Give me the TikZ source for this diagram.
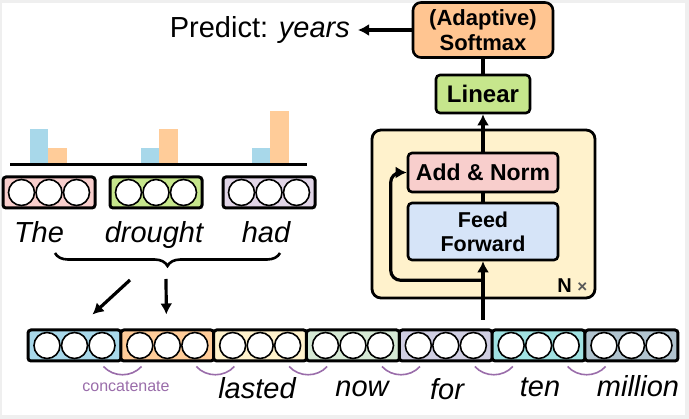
\documentclass[tikz,border=0pt]{standalone}
\usepackage{fontspec}
\setmainfont{Liberation Sans}
\usepackage{xcolor}
\usepackage{tikz}
\usetikzlibrary{arrows.meta,positioning,calc,decorations.pathreplacing}
\definecolor{FrameGray}{RGB}{239,239,239}
\definecolor{EmbBlue}{RGB}{168,216,234}
\definecolor{EmbOrange}{RGB}{255,204,153}
\definecolor{EmbYellow}{RGB}{255,242,204}
\definecolor{EmbGreen}{RGB}{213,232,212}
\definecolor{EmbPurple}{RGB}{208,206,226}
\definecolor{EmbCyan}{RGB}{160,226,226}
\definecolor{EmbSlate}{RGB}{176,195,206}
\definecolor{TopPink}{RGB}{248,206,204}
\definecolor{TopGreen}{RGB}{198,230,140}
\definecolor{TopPurple}{RGB}{225,213,231}
\definecolor{FFBlue}{RGB}{214,228,248}
\definecolor{SoftOrange}{RGB}{255,197,145}
\definecolor{CatPurple}{RGB}{154,109,170}

\begin{document}
\begin{tikzpicture}[x=1pt,y=-1pt,>={Latex[length=11pt,width=12pt]},
  emb/.style={draw,line width=3pt,rounded corners=3pt,minimum width=93pt,minimum height=31pt,inner sep=0pt},
  unit/.style={circle,draw,fill=white,line width=1.6pt,minimum size=26pt,inner sep=0pt},
  block/.style={draw,line width=2.6pt,rounded corners=4pt,align=center,inner sep=0pt,
    font=\fontsize{22}{25}\selectfont\bfseries},
  conn/.style={line width=3.2pt},
  cat/.style={draw=CatPurple,line width=1.6pt},
  word/.style={font=\fontsize{29}{30}\selectfont\itshape,anchor=base,inner sep=0pt}]
% frame
\fill[FrameGray] (0,0) rectangle (689,419);
\fill[white] (2,3) rectangle (685,415);
\useasboundingbox (0,0) rectangle (689,419);

% bottom row of embeddings
\foreach \c [count=\i] in {EmbBlue,EmbOrange,EmbYellow,EmbGreen,EmbPurple,EmbCyan,EmbSlate}{
  \node[emb,fill=\c] (e\i) at ({74.5+(\i-1)*92.83},345.5) {};
  \foreach \k in {-1,0,1} \node[unit,xshift=\k*27.5pt] at (e\i) {};
}
\foreach \i in {1,...,6}
  \draw[cat] ($(e\i.south east)+(-19,4)$) .. controls +(10,11) and +(-10,11) .. ($(e\i.south east)+(19,4)$);
\node[font=\fontsize{16}{18}\selectfont,text=CatPurple] (concat) at (126,386) {concatenate};
\node[word] (w3) at (257,399) {lasted};
\node[word] (w4) at (362,397) {now};
\node[word] (w5) at (447,400) {for};
\node[word] (w6) at (540,397) {ten};
\node[word] (w7) at (638,397) {million};

% context words
\node[emb,minimum width=92pt,fill=TopPink] (t1) at (49,192.5) {};
\node[emb,minimum width=92pt,fill=TopGreen] (t2) at (156,192.5) {};
\node[emb,minimum width=92pt,fill=TopPurple] (t3) at (269,192.5) {};
\foreach \i in {1,2,3}
  \foreach \k in {-1,0,1} \node[unit,xshift=\k*27.5pt] at (t\i) {};
\node[word] (w0) at (39,243) {The};
\node[word] (w1) at (154,243) {drought};
\node[word] (w2) at (266,243) {had};

% gate weights
\fill[EmbBlue] (30,129) rectangle (48,164);
\fill[EmbOrange] (48,148) rectangle (67,164);
\fill[EmbBlue] (141,148) rectangle (159,164);
\fill[EmbOrange] (159,129) rectangle (178,164);
\fill[EmbBlue] (252,148) rectangle (270,164);
\fill[EmbOrange] (270,111) rectangle (289,164);
\draw[line width=3pt] (10,165) -- (307,165);

% merge
\draw[decorate,decoration={brace,amplitude=13pt},line width=2.6pt] (280,253) -- (55,253);
\coordinate (brtip) at (166,279);
\coordinate (brdiag) at (130,280);
\draw[conn,->] (brtip) -- ($(e2.north)+(-1,-14)$);
\draw[conn,->] (brdiag) -- ($(e1.north)+(18,-14)$);

% transformer layer
\node[draw,line width=2.8pt,rounded corners=9pt,fill=EmbYellow,minimum width=223pt,minimum height=168pt] (layer) at (483.5,214) {};
\node[block,fill=TopPink,minimum width=150pt,minimum height=39pt,font=\fontsize{23}{25}\selectfont\bfseries] (an) at (483,172.5) {Add \& Norm};
\node[block,fill=FFBlue,minimum width=150pt,minimum height=57pt,font=\fontsize{21.5}{24}\selectfont\bfseries] (ff) at (483,231.5) {Feed\\Forward};
\node[block,fill=TopGreen,minimum width=94pt,minimum height=38pt,font=\fontsize{24}{26}\selectfont\bfseries] (lin) at (483,94) {Linear};
\node[block,fill=SoftOrange,minimum width=140pt,minimum height=55pt,rounded corners=8pt] (sm) at (483,30) {(Adaptive)\\Softmax};
\node[anchor=south east,inner sep=0pt,font=\fontsize{20}{22}\selectfont\bfseries] (nrep) at ($(layer.south east)+(-9,-7)$) {N {\color{black!65}\fontsize{17}{18}\selectfont×}};
\node[anchor=east,inner sep=8pt,font=\fontsize{29}{30}\selectfont] (pred) at (358,30) {Predict: \textit{years}};

\coordinate (in) at (483,320);
\draw[conn,->] (in) -- (ff.south);
\draw[conn,->,rounded corners=10pt] ($(ff.south)+(0,19)$) -| ($(an.west)+(-16,0)$) -- (an.west);
\draw[conn] (ff.north) -- (an.south);
\draw[conn,->] (an.north) -- (lin.south);
\draw[conn] (lin.north) -- (sm.south);
\draw[conn,->] (sm.west) -- (pred.east);
\end{tikzpicture}
\end{document}
